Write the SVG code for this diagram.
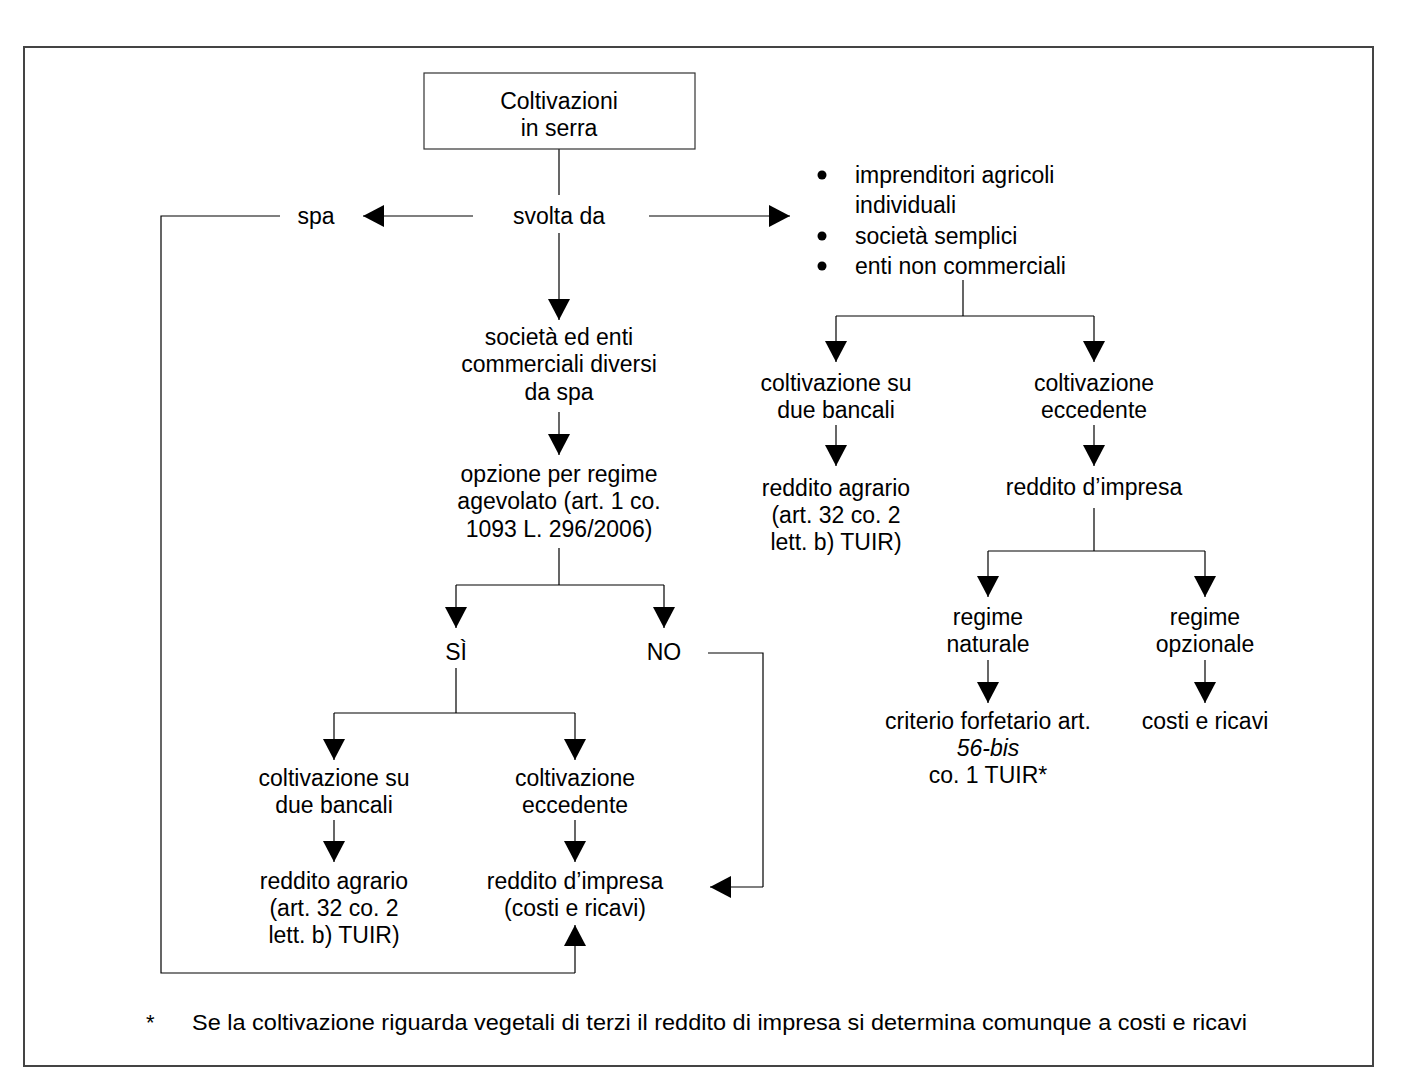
<svg xmlns="http://www.w3.org/2000/svg" width="1422" height="1089" viewBox="0 0 1422 1089">
<style>
text{font-family:"Liberation Sans",Arial,sans-serif;font-size:23px;fill:#000;text-anchor:middle}
.l{text-anchor:start}
.c{stroke:#000;stroke-width:1.2;fill:none}
.a{stroke:#000;stroke-width:1.2;fill:none;marker-end:url(#ah)}
</style>
<defs>
<marker id="ah" markerUnits="userSpaceOnUse" markerWidth="22" markerHeight="24" refX="21" refY="12" orient="auto" viewBox="0 0 22 24">
<path d="M0,1 L21,12 L0,23 z" fill="#000"/>
</marker>
</defs>
<rect x="0" y="0" width="1422" height="1089" fill="#fff"/>
<rect x="24" y="47" width="1349" height="1019" fill="none" stroke="#444" stroke-width="2"/>
<g id="connectors">
<path class="c" d="M559,149 V195"/>
<path class="a" d="M473,216 H363"/>
<path class="a" d="M649,216 H790"/>
<path class="a" d="M559,233 V320"/>
<path class="c" d="M280,216 H161 V973 H575"/>
<path class="a" d="M575,973 V925"/>
<path class="a" d="M559,412 V455"/>
<path class="c" d="M559,548 V585 M456,585 H664"/>
<path class="a" d="M456,585 V628"/>
<path class="a" d="M664,585 V628"/>
<path class="c" d="M708,653 H763 V887"/>
<path class="a" d="M763,887 H710"/>
<path class="c" d="M456,668 V713 M334,713 H575"/>
<path class="a" d="M334,713 V760"/>
<path class="a" d="M575,713 V760"/>
<path class="a" d="M334,820 V862"/>
<path class="a" d="M575,820 V862"/>
<path class="c" d="M963,280 V316 M836,316 H1094"/>
<path class="a" d="M836,316 V362"/>
<path class="a" d="M1094,316 V362"/>
<path class="a" d="M836,425 V466"/>
<path class="a" d="M1094,425 V466"/>
<path class="c" d="M1094,508 V551 M988,551 H1205"/>
<path class="a" d="M988,551 V597"/>
<path class="a" d="M1205,551 V597"/>
<path class="a" d="M988,660 V703"/>
<path class="a" d="M1205,660 V703"/>
</g>
<g id="n-root">
<rect x="424" y="73" width="271" height="76" fill="#fff" stroke="#333" stroke-width="1.2"/>
<text x="559" y="109">Coltivazioni</text>
<text x="559" y="136">in serra</text>
</g>
<g id="n-svolta"><text x="559" y="224">svolta da</text></g>
<g id="n-spa"><text x="316" y="224">spa</text></g>
<g id="n-list">
<circle cx="822" cy="175" r="4.5" fill="#000"/>
<circle cx="822" cy="236" r="4.5" fill="#000"/>
<circle cx="822" cy="266" r="4.5" fill="#000"/>
<text class="l" x="855" y="183">imprenditori agricoli</text>
<text class="l" x="855" y="213">individuali</text>
<text class="l" x="855" y="244">società semplici</text>
<text class="l" x="855" y="274">enti non commerciali</text>
</g>
<g id="n-soc">
<text x="559" y="345">società ed enti</text>
<text x="559" y="372">commerciali diversi</text>
<text x="559" y="400">da spa</text>
</g>
<g id="n-opz">
<text x="559" y="482">opzione per regime</text>
<text x="559" y="509">agevolato (art. 1 co.</text>
<text x="559" y="537">1093 L. 296/2006)</text>
</g>
<g id="n-si"><text x="456" y="660">SÌ</text></g>
<g id="n-no"><text x="664" y="660">NO</text></g>
<g id="n-l-bancali">
<text x="334" y="786">coltivazione su</text>
<text x="334" y="813">due bancali</text>
</g>
<g id="n-l-ecc">
<text x="575" y="786">coltivazione</text>
<text x="575" y="813">eccedente</text>
</g>
<g id="n-l-agr">
<text x="334" y="889">reddito agrario</text>
<text x="334" y="916">(art. 32 co. 2</text>
<text x="334" y="943">lett. b) TUIR)</text>
</g>
<g id="n-l-imp">
<text x="575" y="889">reddito d’impresa</text>
<text x="575" y="916">(costi e ricavi)</text>
</g>
<g id="n-r-bancali">
<text x="836" y="391">coltivazione su</text>
<text x="836" y="418">due bancali</text>
</g>
<g id="n-r-ecc">
<text x="1094" y="391">coltivazione</text>
<text x="1094" y="418">eccedente</text>
</g>
<g id="n-r-agr">
<text x="836" y="496">reddito agrario</text>
<text x="836" y="523">(art. 32 co. 2</text>
<text x="836" y="550">lett. b) TUIR)</text>
</g>
<g id="n-r-imp"><text x="1094" y="495">reddito d’impresa</text></g>
<g id="n-nat">
<text x="988" y="625">regime</text>
<text x="988" y="652">naturale</text>
</g>
<g id="n-opzr">
<text x="1205" y="625">regime</text>
<text x="1205" y="652">opzionale</text>
</g>
<g id="n-forf">
<text x="988" y="729">criterio forfetario art.</text>
<text x="988" y="756"><tspan font-style="italic">56-bis</tspan></text>
<text x="988" y="783">co. 1 TUIR*</text>
</g>
<g id="n-costi"><text x="1205" y="729">costi e ricavi</text></g>
<g id="footnote">
<text class="l" x="146" y="1030" style="font-size:22px">*</text>
<text class="l" x="192" y="1030" style="font-size:22px" textLength="1055" lengthAdjust="spacingAndGlyphs">Se la coltivazione riguarda vegetali di terzi il reddito di impresa si determina comunque a costi e ricavi</text>
</g>
</svg>
